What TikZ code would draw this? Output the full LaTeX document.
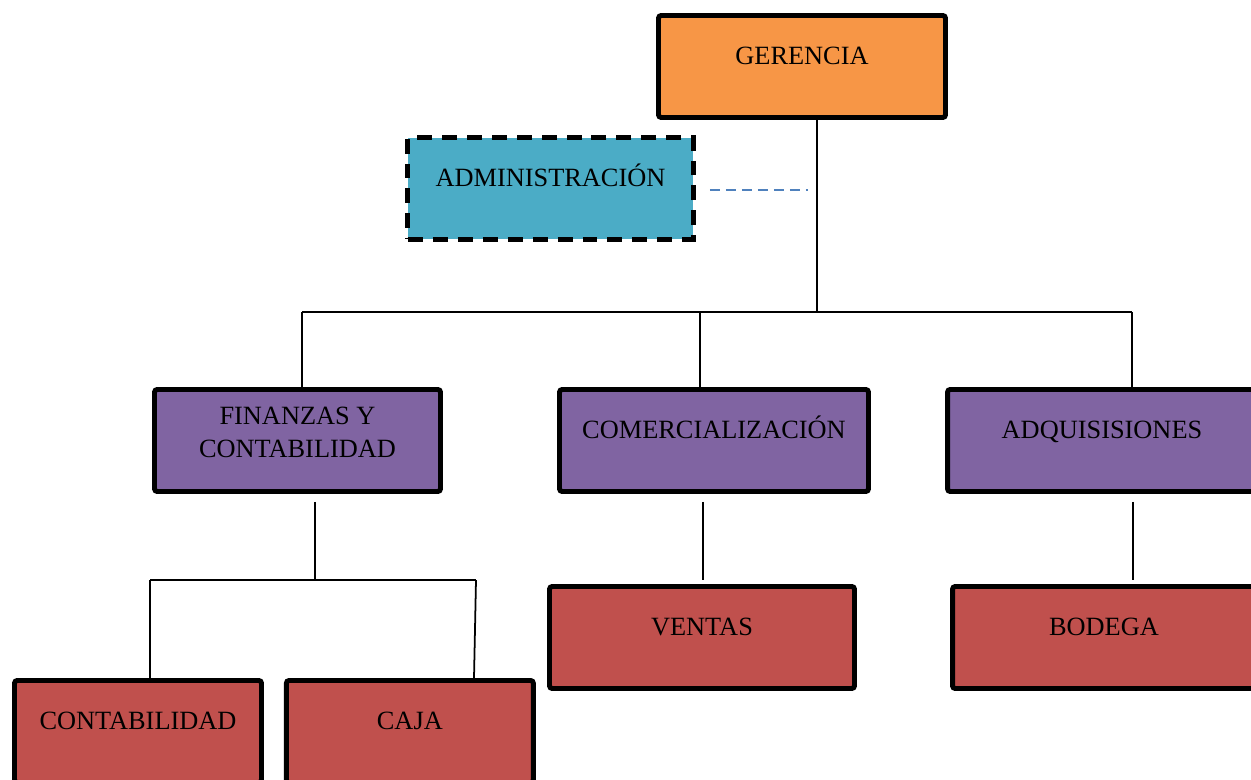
\documentclass[tikz,border=0pt]{standalone}
\usepackage{fontspec}
\setmainfont{Liberation Serif}
\usetikzlibrary{positioning}

\definecolor{gerOrange}{HTML}{F79646}
\definecolor{admCyan}{HTML}{4BACC6}
\definecolor{depPurple}{HTML}{8064A2}
\definecolor{secRed}{HTML}{C0504D}
\definecolor{linkBlue}{HTML}{4F81BD}

\begin{document}
\begin{tikzpicture}[
        x=0.02cm, y=-0.02cm,
        box/.style={rectangle, draw, line width=2.8pt, rounded corners=1.5pt, inner sep=0pt,
                text height=0.98cm, text depth=1.06cm, align=center,
                font=\fontsize{15}{18.8}\selectfont},
        conn/.style={draw, line width=1pt},
        link/.style={draw=linkBlue, line width=1.2pt, dash pattern=on 0.2cm off 0.12cm}
    ]
    \clip (0,0) rectangle (1251,780);

    % Gerencia and its staff unit
    \node[box, fill=gerOrange, minimum width=5.74cm] (ger) at (802,66.5) {GERENCIA};
    \node[box, fill=admCyan, minimum width=5.72cm, rounded corners=0pt,
        dash pattern=on 0.3cm off 0.2cm] (adm) at (550.5,188.5) {ADMINISTRACIÓN};

    % Departments
    \node[box, fill=depPurple, minimum width=5.72cm, text height=1.365cm, text depth=0.675cm]
        (fin) at (297.5,440.5) {FINANZAS Y\\CONTABILIDAD};
    \node[box, fill=depPurple, minimum width=6.18cm] (com) at (714,440.5) {COMERCIALIZACIÓN};
    \node[box, fill=depPurple, minimum width=6.18cm] (adq) at (1102,440.5) {ADQUISISIONES};

    % Sections
    \node[box, fill=secRed, minimum width=6.1cm] (ven) at (702,637.5) {VENTAS};
    \node[box, fill=secRed, minimum width=6.06cm] (bod) at (1104,637.5) {BODEGA};
    \node[box, fill=secRed, minimum width=4.94cm] (con) at (138,731.5) {CONTABILIDAD};
    \node[box, fill=secRed, minimum width=4.94cm, right=0.4cm of con] (caja) {CAJA};

    % Main bus
    \coordinate (ger-drop) at (817,312);
    \coordinate (bus-l) at (302,312);
    \coordinate (bus-c) at (700,312);
    \coordinate (bus-r) at (1132,312);
    \draw[conn] (ger-drop |- ger.south) -- (ger-drop);
    \draw[conn] (bus-l) -- (bus-r);
    \draw[conn] (bus-l) -- (bus-l |- fin.north);
    \draw[conn] (bus-c) -- (bus-c |- com.north);
    \draw[conn] (bus-r) -- (bus-r |- adq.north);

    % Staff link
    \draw[link, shorten <=0.28cm, shorten >=0.18cm]
        ([yshift=-0.03cm]adm.east) -- ([yshift=-0.03cm]adm.east -| ger-drop);

    % Finanzas branch
    \coordinate (fin-drop) at (315,580);
    \coordinate (fin-bus-l) at (150,580);
    \coordinate (fin-bus-r) at (476,580);
    \draw[conn, shorten <=0.16cm] (fin-drop |- fin.south) -- (fin-drop);
    \draw[conn] (fin-bus-l) -- (fin-bus-r);
    \draw[conn] (fin-bus-l) -- (fin-bus-l |- con.north);
    \draw[conn] (fin-bus-r) -- ([xshift=-0.04cm]fin-bus-r |- caja.north);

    % Single sections
    \coordinate (com-drop) at (703,580);
    \coordinate (adq-drop) at (1133,580);
    \draw[conn, shorten <=0.16cm] (com-drop |- com.south) -- (com-drop);
    \draw[conn, shorten <=0.16cm] (adq-drop |- adq.south) -- (adq-drop);
\end{tikzpicture}
\end{document}
